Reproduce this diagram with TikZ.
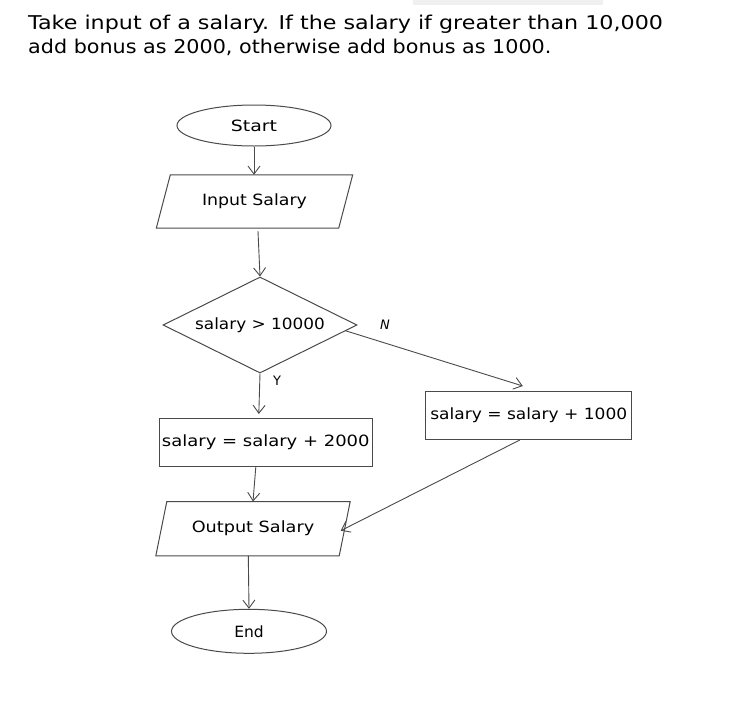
\documentclass[tikz,border=0pt]{standalone}
\usepackage{fontspec}
\setmainfont{DejaVu Sans}
\usetikzlibrary{arrows.meta,shapes.geometric,calc}
\definecolor{edge}{HTML}{4A4A4A}
\newcommand{\hs}[2]{\scalebox{#1}[1]{#2}}
\tikzset{
  shapeline/.style={draw=edge, line width=1pt},
  conn/.style={draw=edge, line width=0.9pt, -{Straight Barb[length=8pt,width=12pt]}},
  txt/.style={font=\fontsize{15.5}{18}\selectfont, text=black},
  term/.style={shapeline, ellipse, inner sep=0pt, txt},
  io/.style={rectangle, inner sep=0pt, txt},
  proc/.style={shapeline, rectangle, inner sep=0pt, txt},
  cond/.style={shapeline, diamond, aspect=2, inner sep=0pt, txt},
  lbl/.style={font=\fontsize{13}{15}\selectfont, text=black},
  title/.style={font=\fontsize{19}{22}\selectfont, anchor=base west, inner sep=0pt, text=black}
}
\begin{document}
\begin{tikzpicture}[x=1pt,y=-1pt]
\useasboundingbox[fill=white] (0,0) rectangle (750,718);
% screen toolbar fragment
\fill[black!6] (413,0) rectangle (603,5);
% title
\node[title] (t1) at (28,29.5) {\hs{1.17}{Take input of a salary. If the salary if greater than 10,000}};
\node[title] (t2) at (28,53.5) {\hs{1.09}{add bonus as 2000, otherwise add bonus as 1000.}};
% nodes
\node[term, minimum width=154, minimum height=41] (start) at (254,125.5) {\hs{1.22}{Start}};
\node[io, minimum width=182, minimum height=53] (in) at (254.5,201.5) {\hs{1.12}{Input Salary}};
\draw[shapeline] ($(in.north west)+(7,0)$) -- ($(in.north east)+(7,0)$) -- ($(in.south east)+(-7,0)$) -- ($(in.south west)+(-7,0)$) -- cycle;
\node[cond, minimum width=194, minimum height=96] (dec) at (260,325) {\hs{1.09}{salary > 10000}};
\node[proc, minimum width=213, minimum height=48] (yes) at (265.8,442.5) {\hs{1.16}{salary = salary + 2000}};
\node[proc, minimum width=206, minimum height=48] (no) at (528.8,415.5) {\hs{1.10}{salary = salary + 1000}};
\node[io, minimum width=183, minimum height=54] (out) at (253,528.7) {\hs{1.14}{Output Salary}};
\draw[shapeline] ($(out.north west)+(5.5,0)$) -- ($(out.north east)+(5.5,0)$) -- ($(out.south east)+(-5.5,0)$) -- ($(out.south west)+(-5.5,0)$) -- cycle;
\node[term, minimum width=155, minimum height=44] (end) at (249,631.3) {\hs{1.0}{End}};
% labels
\node[lbl] (n) at (385,325) {\textit{N}};
\node[lbl] (y) at (277,381) {Y};
% connectors
\draw[conn] (start.south) -- (start.south |- in.north);
\draw[conn] ([xshift=3.5pt,yshift=-3pt]in.south) -- (dec.north);
\draw[conn] (dec.south) -- ([xshift=-7pt,yshift=4pt]yes.north);
\draw[conn] ($(dec.south)!0.88!(dec.east)$) -- ([xshift=-6pt,yshift=5pt]no.north);
\draw[conn] ([xshift=-10pt]yes.south) -- ([xshift=0pt]out.north);
\draw[conn] ([xshift=-9pt]no.south) -- ([xshift=-4pt,yshift=-2pt]out.east);
\draw[conn] ([xshift=-4.7pt]out.south) -- (end.north);
\end{tikzpicture}
\end{document}
